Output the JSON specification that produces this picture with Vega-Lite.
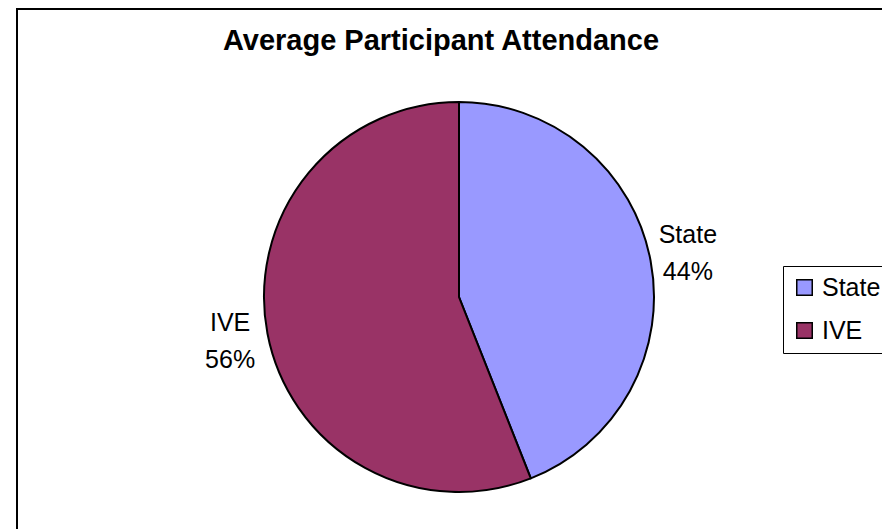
{
  "$schema": "https://vega.github.io/schema/vega-lite/v6.json",
  "autosize": "none",
  "padding": {"left": 17, "top": 9, "right": 0, "bottom": 0},
  "width": 884,
  "height": 576,
  "background": "white",
  "config": {
    "view": {"stroke": null},
    "font": "Liberation Sans"
  },
  "title": {
    "text": "Average Participant Attendance",
    "font": "Liberation Sans",
    "fontSize": 29,
    "fontWeight": "bold",
    "color": "black",
    "anchor": "middle",
    "baseline": "alphabetic",
    "offset": -31,
    "dx": -18,
    "dy": 40
  },
  "data": {
    "values": [
      {"category": "State", "percent": 44, "order": 1},
      {"category": "IVE", "percent": 56, "order": 2}
    ]
  },
  "transform": [
    {"calculate": "datum.category + '\\n' + datum.percent + '%'", "as": "label"}
  ],
  "layer": [
    {
      "mark": {"type": "rect", "fill": null, "fillOpacity": 0, "stroke": "black", "strokeWidth": 2},
      "encoding": {}
    },
    {
      "mark": {"type": "arc", "outerRadius": 195, "stroke": "black", "strokeWidth": 2},
      "encoding": {
        "theta": {"field": "percent", "type": "quantitative", "stack": true},
        "order": {"field": "order", "type": "quantitative"},
        "color": {
          "field": "category",
          "type": "nominal",
          "sort": ["State", "IVE"],
          "scale": {"domain": ["State", "IVE"], "range": ["#9999FF", "#993366"]},
          "legend": {
            "title": null,
            "orient": "none",
            "legendX": 766,
            "legendY": 257,
            "strokeColor": "black",
            "fillColor": "white",
            "padding": 9,
            "symbolType": "square",
            "symbolSize": 240,
            "symbolStrokeColor": "black",
            "symbolStrokeWidth": 1.5,
            "symbolOpacity": 1,
            "labelFontSize": 25,
            "labelFont": "Liberation Sans",
            "labelColor": "black",
            "labelOffset": 5,
            "rowPadding": 17,
            "labelLimit": 200
          }
        }
      }
    },
    {
      "mark": {"type": "text", "radius": 233, "fontSize": 25, "font": "Liberation Sans", "color": "black", "lineBreak": "\n", "lineHeight": 37, "align": "center", "baseline": "middle", "dy": -18},
      "encoding": {
        "theta": {"field": "percent", "type": "quantitative", "stack": true},
        "order": {"field": "order", "type": "quantitative"},
        "text": {"field": "label", "type": "nominal"}
      }
    }
  ]
}
